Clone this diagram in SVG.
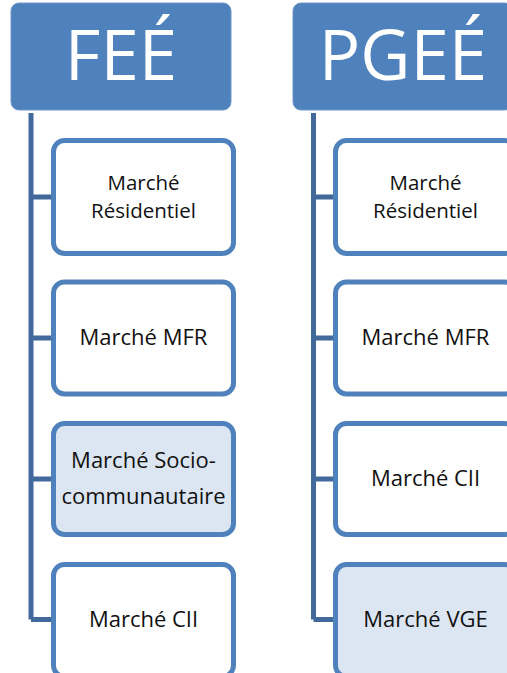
<svg xmlns="http://www.w3.org/2000/svg" width="507" height="673" viewBox="0 0 507 673">
<style>
.hdr{fill:#4F81BD;stroke:#6F97C8;stroke-width:1}
.hdrt{font-family:"Open Sans","Liberation Sans",sans-serif;font-size:69px;fill:#FFFFFF;text-anchor:middle}
.box{fill:#FFFFFF;stroke:#4F81BD;stroke-width:5}
.box.hl{fill:#DCE6F2}
.t{font-family:"Open Sans","Liberation Sans",sans-serif;font-size:22px;fill:#111111;text-anchor:middle}
.t2{font-size:20.5px}
.con{fill:none;stroke:#41699B;stroke-width:5}
</style>
<rect width="507" height="673" fill="#FFFFFF"/>
<g id="connectors">
<path class="con" d="M31 113 V619.5 M31 197 H52 M31 338 H52 M31 479 H52 M31 619.5 H52"/>
<path class="con" d="M313.5 113 V619.5 M313.5 197 H334 M313.5 338 H334 M313.5 479 H334 M313.5 619.5 H334"/>
</g>
<g id="fee">
<rect class="hdr" x="11" y="3" width="220" height="107" rx="8"/>
<text class="hdrt" x="121" y="80">FEÉ</text>
</g>
<g id="pgee">
<rect class="hdr" x="293" y="3" width="220" height="107" rx="8"/>
<text class="hdrt" x="403" y="80">PGEÉ</text>
</g>
<g id="fee-residentiel">
<rect class="box" x="53.5" y="140.5" width="180" height="113" rx="11"/>
<text class="t t2" x="143.5" y="189.5">Marché</text>
<text class="t t2" x="143.5" y="217.5">Résidentiel</text>
</g>
<g id="fee-mfr">
<rect class="box" x="53.5" y="282" width="180" height="112" rx="11"/>
<text class="t" x="143.5" y="344.5">Marché MFR</text>
</g>
<g id="fee-socio">
<rect class="box hl" x="53.5" y="423.5" width="180" height="111" rx="11"/>
<text class="t" x="143.5" y="468">Marché Socio-</text>
<text class="t" x="143.5" y="504">communautaire</text>
</g>
<g id="fee-cii">
<rect class="box" x="53.5" y="564.5" width="180" height="112" rx="11"/>
<text class="t" x="143.5" y="627">Marché CII</text>
</g>
<g id="pgee-residentiel">
<rect class="box" x="335.5" y="140.5" width="180" height="113" rx="11"/>
<text class="t t2" x="425.5" y="189.5">Marché</text>
<text class="t t2" x="425.5" y="217.5">Résidentiel</text>
</g>
<g id="pgee-mfr">
<rect class="box" x="335.5" y="282" width="180" height="112" rx="11"/>
<text class="t" x="425.5" y="344.5">Marché MFR</text>
</g>
<g id="pgee-cii">
<rect class="box" x="335.5" y="423.5" width="180" height="111" rx="11"/>
<text class="t" x="425.5" y="486">Marché CII</text>
</g>
<g id="pgee-vge">
<rect class="box hl" x="335.5" y="564.5" width="180" height="112" rx="11"/>
<text class="t" x="425.5" y="627">Marché VGE</text>
</g>
</svg>
